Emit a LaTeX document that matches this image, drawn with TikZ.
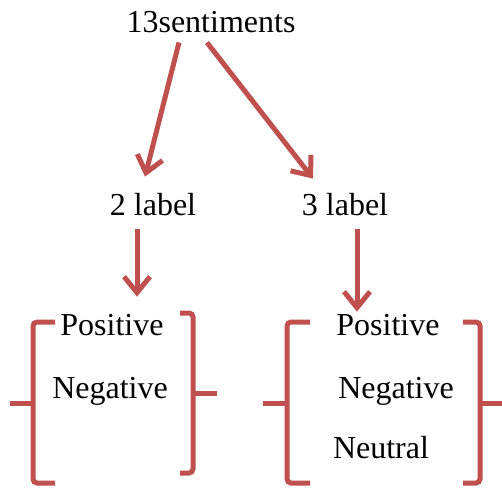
\documentclass[tikz,border=0pt]{standalone}
\usepackage{fontspec}
\setmainfont{Liberation Serif}
\usepackage{tikz}
\usetikzlibrary{arrows.meta}
\usepackage{xcolor}
\definecolor{linkred}{HTML}{C0504D}

\begin{document}
\begin{tikzpicture}[x=1pt,y=1pt,
    word/.style={anchor=base,inner sep=0pt,font=\fontsize{32}{38}\selectfont},
    link/.style={draw=linkred,line width=5pt,-{Straight Barb[length=16pt,width=26pt]}},
    bracket/.style={draw=linkred,line width=5pt,rounded corners=4pt}]
          \useasboundingbox (0,0) rectangle (502,-491);
          \node[word] (sent) at (211,-32) {13sentiments};
          \node[word] (lab2) at (153,-215) {2 label};
          \node[word] (lab3) at (345,-215) {3 label};
          \node[word] (pos2) at (112,-335) {Positive};
          \node[word] (neg2) at (110,-398) {Negative};
          \node[word] (pos3) at (388,-335) {Positive};
          \node[word] (neg3) at (396,-398) {Negative};
          \node[word] (neu3) at (381,-458) {Neutral};
          \draw[link] ([xshift=-32pt,yshift=-10pt]sent.south) -- ([xshift=-8pt,yshift=16pt]lab2.north);
          \draw[link] ([xshift=-4pt,yshift=-10pt]sent.south) -- ([xshift=-32pt,yshift=14pt]lab3.north);
          \draw[link] ([xshift=-16pt,yshift=-13pt]lab2.south) -- ([xshift=25pt,yshift=17pt]pos2.north);
          \draw[link] ([xshift=12pt,yshift=-13pt]lab3.south) -- ([xshift=-31pt,yshift=2pt]pos3.north);
          % two label brackets
          \draw[bracket] (55,-322) -- (33,-322) -- (33,-483) -- (55,-483);
          \draw[bracket] (10,-403) -- (33,-403);
          \draw[bracket] (180,-313) -- (193,-313) -- (193,-473) -- (180,-473);
          \draw[bracket] (193,-393) -- (217,-393);
          % three label brackets
          \draw[bracket] (310,-322) -- (287,-322) -- (287,-483) -- (310,-483);
          \draw[bracket] (263,-403) -- (287,-403);
          \draw[bracket] (463,-322) -- (480,-322) -- (480,-483) -- (463,-483);
          \draw[bracket] (480,-403) -- (510,-403);
        \end{tikzpicture}
\end{document}
